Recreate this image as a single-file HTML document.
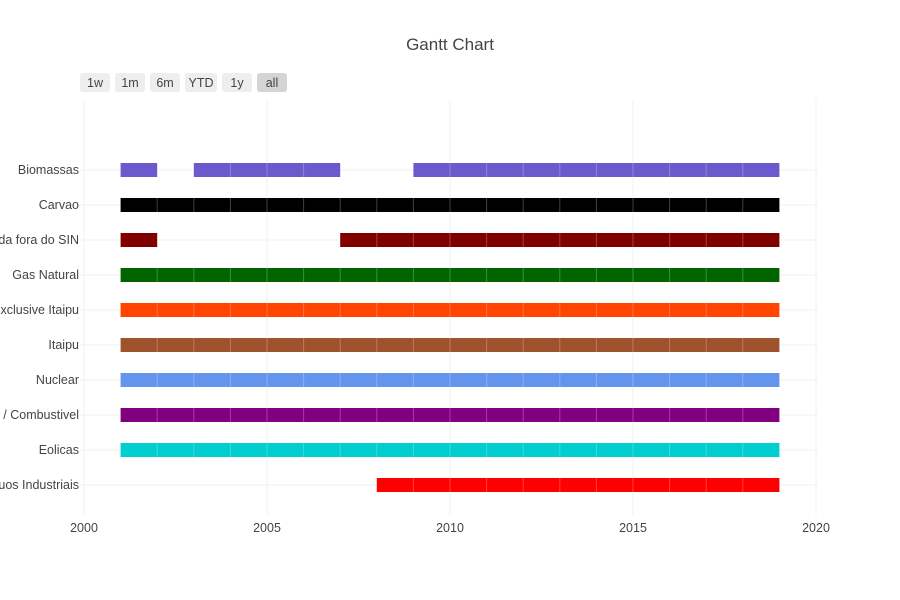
<!DOCTYPE html>
<html><head><meta charset="utf-8"><style>
html,body{margin:0;padding:0;background:#fff;}
svg{display:block;font-family:"Liberation Sans",Arial,sans-serif;}
</style></head><body>
<svg id="s" width="900" height="600" viewBox="0 0 900 600" xmlns="http://www.w3.org/2000/svg">
<rect width="900" height="600" fill="#fff"/>
<text x="450" y="50" text-anchor="middle" font-size="17" fill="#444">Gantt Chart</text>
<g font-size="12.5" fill="#444" text-anchor="middle">
<rect x="80" y="73" width="30" height="19" rx="3" fill="#eee"/><text x="95" y="87">1w</text>
<rect x="115" y="73" width="30" height="19" rx="3" fill="#eee"/><text x="130" y="87">1m</text>
<rect x="150" y="73" width="30" height="19" rx="3" fill="#eee"/><text x="165" y="87">6m</text>
<rect x="185" y="73" width="32" height="19" rx="3" fill="#eee"/><text x="201" y="87">YTD</text>
<rect x="222" y="73" width="30" height="19" rx="3" fill="#eee"/><text x="237" y="87">1y</text>
<rect x="257" y="73" width="30" height="19" rx="3" fill="#d4d4d4"/><text x="272" y="87">all</text>
</g>
<g stroke="#f2f2f2" stroke-width="1">
<line x1="84" y1="100" x2="84" y2="515"/>
<line x1="267" y1="100" x2="267" y2="515"/>
<line x1="450" y1="100" x2="450" y2="515"/>
<line x1="633" y1="100" x2="633" y2="515"/>
<line x1="816" y1="100" x2="816" y2="515"/>
</g>
<g id="rows"></g>
<g font-size="12.5" fill="#444" text-anchor="middle">
<text x="84" y="532">2000</text><text x="267" y="532">2005</text><text x="450" y="532">2010</text><text x="633" y="532">2015</text><text x="816" y="532">2020</text>
</g>
</svg>
<script>
var X=function(y){return 84+36.6*(y-2000);};
var rows=[
["Biomassas","#6a5acd",[[2001,2002],[2003,2007],[2009,2019]]],
["Carvao","#000000",[[2001,2019]]],
["Importada fora do SIN","#800000",[[2001,2002],[2007,2019]]],
["Gas Natural","#006400",[[2001,2019]]],
["Hidraulica exclusive Itaipu","#ff4500",[[2001,2019]]],
["Itaipu","#a0522d",[[2001,2019]]],
["Nuclear","#6495ed",[[2001,2019]]],
["Oleo Diesel / Combustivel","#800080",[[2001,2019]]],
["Eolicas","#00ced1",[[2001,2019]]],
["Outros Residuos Industriais","#ff0000",[[2008,2019]]]];
var h="";
rows.forEach(function(r,i){
 var y=170+35*i;
 h+='<line x1="80" y1="'+y+'" x2="818" y2="'+y+'" stroke="#f2f2f2" stroke-width="1"/>';
 h+='<text x="79" y="'+(y+4)+'" font-size="12.5" fill="#444" text-anchor="end">'+r[0]+'</text>';
 r[2].forEach(function(s){
  h+='<rect x="'+X(s[0])+'" y="'+(y-7)+'" width="'+(X(s[1])-X(s[0]))+'" height="14" fill="'+r[1]+'"/>';
  for(var k=s[0]+1;k<s[1];k++){h+='<line x1="'+X(k)+'" y1="'+(y-7)+'" x2="'+X(k)+'" y2="'+(y+7)+'" stroke="#fff" stroke-opacity="0.25" stroke-width="1"/>';}
 });
});
document.getElementById("rows").innerHTML=h;
</script>
</body></html>
